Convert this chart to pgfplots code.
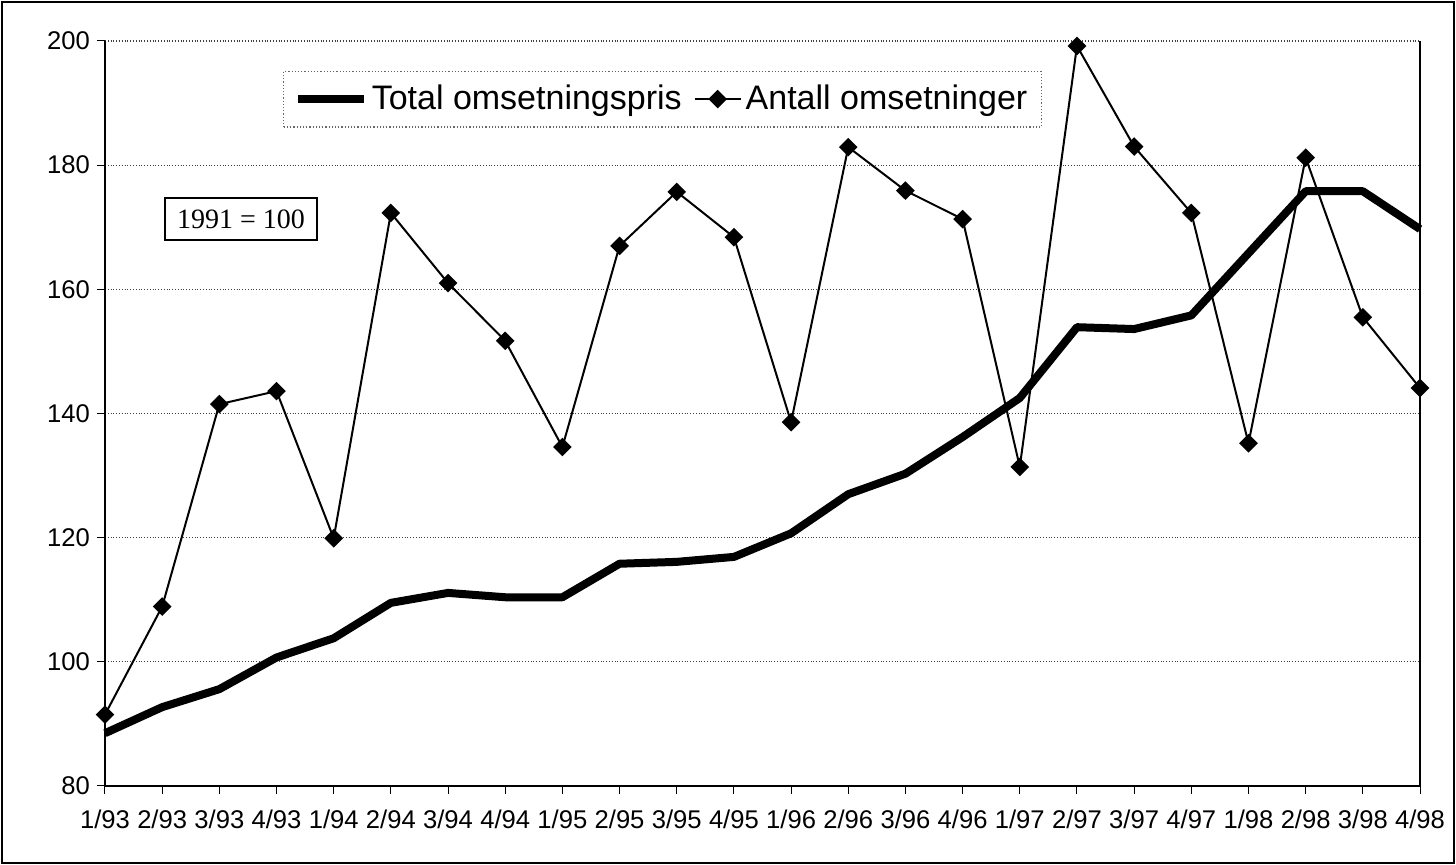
\documentclass[border=0pt]{standalone}
\usepackage{fontspec}
\setmainfont{Liberation Sans}
\newfontfamily\timesfont{Liberation Serif}
\usepackage{pgfplots}
\pgfplotsset{compat=1.18}
\pgfplotsset{
  thicklegend/.style={legend image code/.code={\draw[##1,solid] (0pt,0pt)--(33pt,0pt);}},
  marklegend/.style={legend image code/.code={\draw[##1,solid,mark repeat=2,mark phase=2] plot coordinates {(0pt,0pt)(11.5pt,0pt)(23pt,0pt)};}},
}
\begin{document}
\begin{tikzpicture}
\begin{axis}[
  scale only axis, width=657.5pt, height=372.5pt,
  xmin=0, xmax=23, ymin=80, ymax=200,
  ytick={80,100,...,200},
  xtick={0,...,23},
  xticklabels={1/93,2/93,3/93,4/93,1/94,2/94,3/94,4/94,1/95,2/95,3/95,4/95,1/96,2/96,3/96,4/96,1/97,2/97,3/97,4/97,1/98,2/98,3/98,4/98},
  axis line style={draw=none},
  xtick pos=lower, ytick pos=left,
  ymajorgrids, grid style={black!75, densely dotted, line width=0.6pt},
  tick align=outside, major tick length=4pt, tick style={black, line width=0.5pt},
  ticklabel style={font=\fontsize{12.8}{14}\selectfont},
  xticklabel style={yshift=-4.5pt},
  /pgf/number format/assume math mode=true,
  clip=false,
  legend columns=2,
  legend style={at={(0.424,0.922)}, anchor=center, draw=black!60, densely dotted, line width=0.6pt,
    font=\fontsize{17}{20}\selectfont, inner xsep=5pt, inner ysep=5pt,
    /tikz/every even column/.append style={column sep=4pt}},
]
\addplot[black, line width=4pt, line join=round, solid, thicklegend]
  coordinates {(0,88.5)(1,92.7)(2,95.6)(3,100.7)(4,103.8)(5,109.5)(6,111.1)(7,110.4)(8,110.4)(9,115.8)(10,116.1)(11,116.9)(12,120.7)(13,127.0)(14,130.3)(15,136.2)(16,142.5)(17,153.9)(18,153.6)(19,155.8)(20,165.8)(21,175.8)(22,175.8)(23,169.7)};
\addlegendentry{Total omsetningspris}
\addplot[black, line width=1pt, solid, mark=square*, mark size=2.8pt, mark options={rotate=45, solid}, marklegend]
  coordinates {(0,91.5)(1,108.9)(2,141.5)(3,143.6)(4,119.9)(5,172.3)(6,161.0)(7,151.7)(8,134.6)(9,167.0)(10,175.7)(11,168.4)(12,138.6)(13,182.9)(14,175.9)(15,171.3)(16,131.4)(17,199.2)(18,183.0)(19,172.3)(20,135.2)(21,181.2)(22,155.5)(23,144.1)};
\addlegendentry{Antall omsetninger}
\draw[black, line width=0.8pt] (rel axis cs:0,1) -- (rel axis cs:0,0) -- (rel axis cs:1,0) -- (rel axis cs:1,1);
\node[draw, line width=1.2pt, font=\timesfont\fontsize{14}{16}\selectfont, minimum width=76pt, minimum height=21pt, inner sep=0pt] at (rel axis cs:0.1034,0.761) {1991 = 100};
\coordinate (sw) at (rel axis cs:0,0);
\coordinate (ne) at (rel axis cs:1,1);
\end{axis}
\draw[line width=0.7pt] ([shift={(-51.5pt,-38.5pt)}]sw) rectangle ([shift={(17pt,19.5pt)}]ne);
\path[use as bounding box] ([shift={(-52.5pt,-39.5pt)}]sw) rectangle ([shift={(18pt,20.5pt)}]ne);
\end{tikzpicture}
\end{document}
